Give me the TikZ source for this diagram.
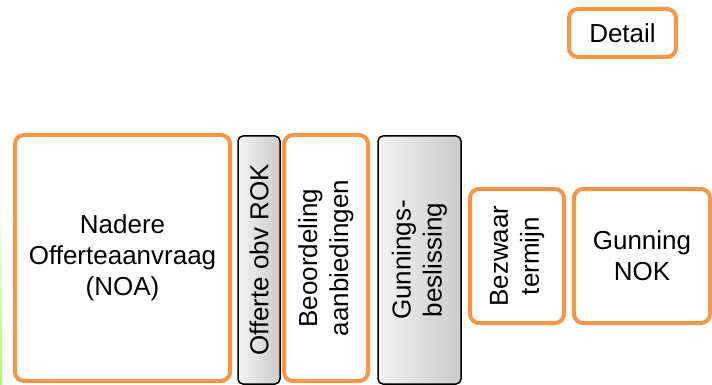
\documentclass[tikz,border=0pt]{standalone}
\usepackage{fontspec}
\setmainfont{Liberation Sans}
\definecolor{oranje}{RGB}{247,150,70}

\begin{document}
\begin{tikzpicture}[x=1pt,y=-1pt,
  font=\fontsize{26}{31}\selectfont,
  oblok/.style={draw=oranje,line width=4pt,rounded corners=9pt,fill=white,align=center,inner sep=0pt},
  gblok/.style={draw=black,line width=1.5pt,rounded corners=5pt,left color=gray!10,right color=gray!40,align=center,inner sep=0pt,rotate=90}]
\useasboundingbox (0,0) rectangle (712,385);

% rand links
\shade[top color=white,bottom color=green!45!lime!60] (0,200) rectangle (1.5,385);

\node[oblok,minimum width=107pt,minimum height=48pt] (detail) at (622.5,33) {Detail};

\node[oblok,minimum width=215pt,minimum height=246pt] (noa) at (122.5,258) {Nadere\\Offerteaanvraag\\(NOA)};
\node[gblok,minimum width=248pt,minimum height=42pt] (rok) at (259,260) {Offerte obv ROK};
\node[oblok,rotate=90,minimum width=246pt,minimum height=84pt] (beoordeling) at (326,258) {Beoordeling\\aanbiedingen};
\node[gblok,minimum width=248pt,minimum height=83pt] (beslissing) at (419.5,260) {Gunnings-\\beslissing};
\node[oblok,rotate=90,minimum width=134pt,minimum height=94pt] (bezwaar) at (517,256) {Bezwaar\\termijn};
\node[oblok,minimum width=136pt,minimum height=134pt] (gunning) at (642,256) {Gunning\\NOK};

\end{tikzpicture}
\end{document}
